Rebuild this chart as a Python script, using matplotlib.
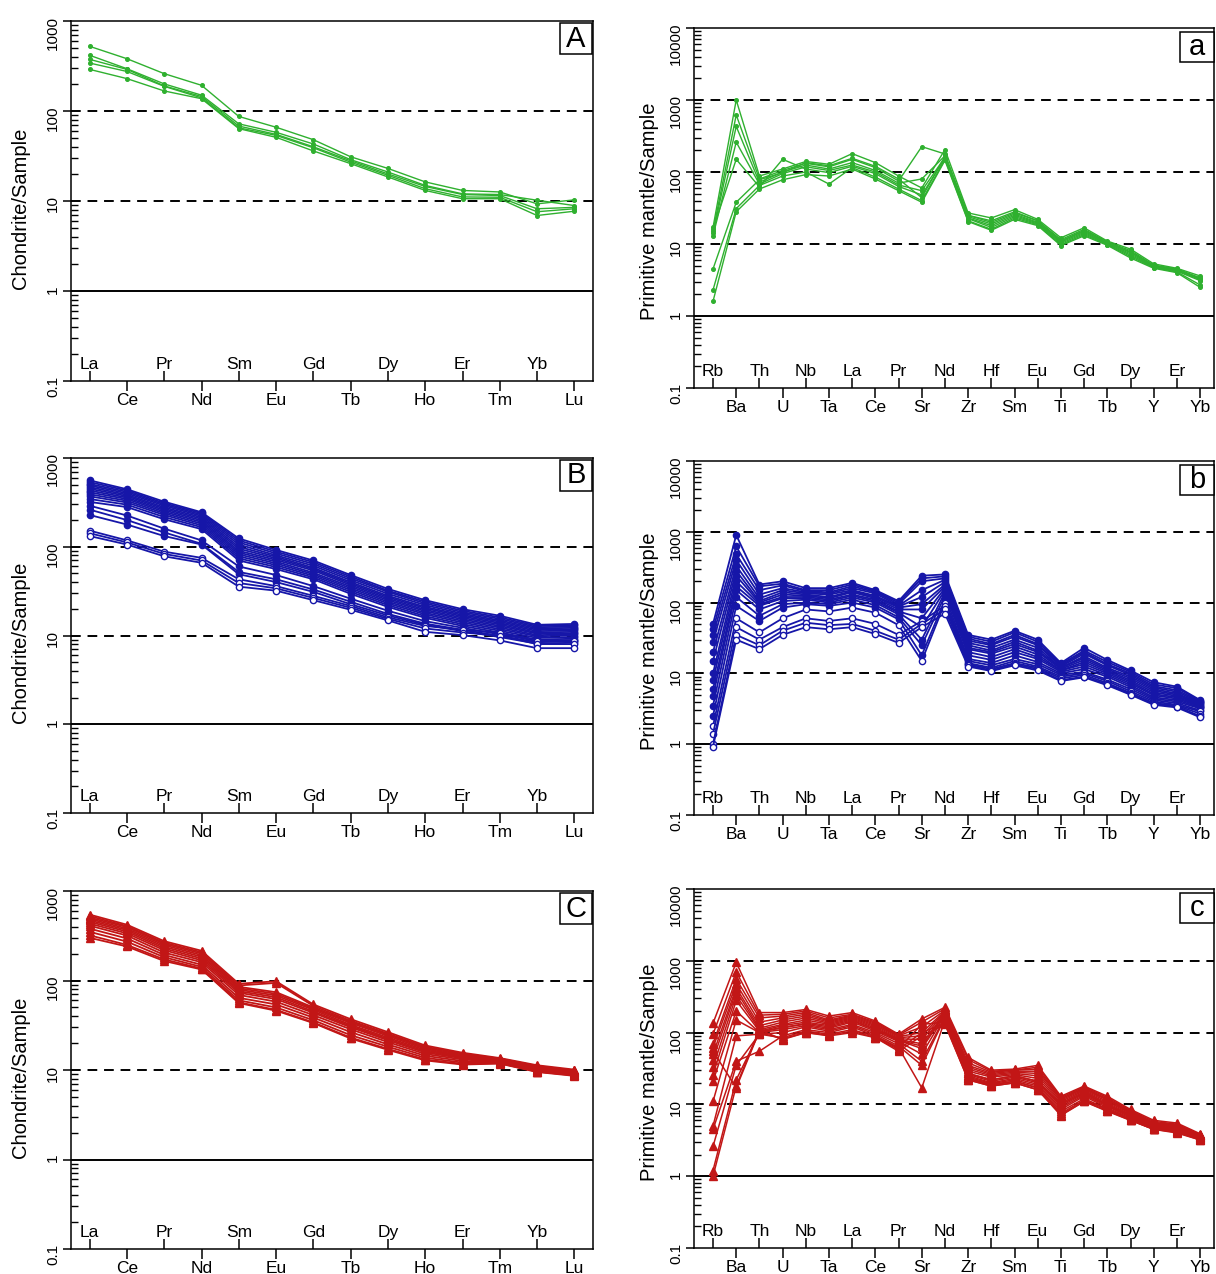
import matplotlib
matplotlib.use("Agg")
import matplotlib.pyplot as plt
from matplotlib.ticker import LogLocator, NullFormatter
from matplotlib.patches import Rectangle

plt.rcParams['font.family'] = ['Liberation Sans', 'DejaVu Sans']

# ---------------- data ----------------
ree = ['La', 'Ce', 'Pr', 'Nd', 'Sm', 'Eu', 'Gd', 'Tb', 'Dy', 'Ho', 'Er', 'Tm', 'Yb', 'Lu']
spider = ['Rb', 'Ba', 'Th', 'U', 'Nb', 'Ta', 'La', 'Ce', 'Pr', 'Sr', 'Nd',
          'Zr', 'Hf', 'Sm', 'Eu', 'Ti', 'Gd', 'Tb', 'Dy', 'Y', 'Er', 'Yb']

# Panel A (chondrite-normalised, green)
A1 = [523, 381, 260, 193, 87, 66, 48, 31, 23, 16.3, 13.1, 12.6, 9.3, 10.3]
A2 = [416, 295, 200, 150, 72, 58, 43, 28.8, 21, 14.9, 12.0, 11.8, 10.2, 8.9]
A3 = [375, 290, 190, 145, 68, 55, 40, 28, 20, 14.5, 11.8, 11.5, 8.2, 8.5]
A4 = [341, 275, 188, 140, 65, 53.6, 39, 27, 19.3, 13.7, 11.1, 11.0, 7.6, 8.2]
A5 = [290, 229, 167, 137, 63.7, 51, 36, 26, 18.5, 13.1, 10.6, 10.6, 6.9, 7.7]

# Panel B (chondrite-normalised, blue)
B01 = [560, 445, 322, 245, 124, 92, 70, 48, 33.5, 25, 19.8, 16.7, 13.2, 13.5]
B02 = [535, 430, 310, 238, 118, 88, 67, 46, 32, 24, 19, 16, 12.8, 13]
B03 = [510, 415, 300, 230, 112, 84, 64, 44, 31, 23, 18.3, 15.4, 12.4, 12.6]
B04 = [490, 400, 290, 222, 106, 80, 61, 42, 29.5, 22, 17.6, 14.8, 12, 12.2]
B05 = [470, 385, 278, 214, 100, 77, 58, 40, 28, 21, 17, 14.3, 11.6, 11.8]
B06 = [450, 372, 268, 206, 95, 74, 56, 38.5, 27, 20.3, 16.4, 13.8, 11.2, 11.4]
B07 = [430, 358, 258, 198, 90, 71, 54, 37, 26, 19.5, 15.8, 13.3, 10.8, 11]
B08 = [410, 345, 248, 190, 86, 68, 51, 35.5, 25, 18.8, 15.2, 12.8, 10.5, 10.6]
B09 = [390, 330, 238, 182, 82, 65, 49, 34, 24, 18, 14.6, 12.3, 10.1, 10.3]
B10 = [370, 315, 228, 174, 78, 62, 47, 32.5, 23, 17.3, 14, 11.8, 9.8, 10]
B11 = [345, 298, 216, 166, 74, 59, 45, 31, 22, 16.5, 13.4, 11.3, 9.4, 9.6]
B12 = [320, 280, 204, 158, 70, 56, 43, 29.5, 21, 15.8, 12.8, 10.8, 9, 9.2]
B13 = [290, 225, 160, 118, 60, 48, 36, 26, 19, 14.5, 12.2, 10.3, 8.7, 8.9]
B14 = [262, 200, 145, 108, 52, 43, 33, 24, 17.5, 13.6, 11.6, 9.9, 8.4, 8.6]
B15 = [228, 178, 132, 106, 49, 40, 31, 22.5, 16.8, 13.2, 11.2, 9.6, 8.1, 8.3]
B16 = [152, 118, 88, 75, 43, 36, 28, 21.5, 16, 12.8, 11.6, 10.8, 8.6, 8.6]
B17 = [142, 112, 83, 70, 39, 34, 26.5, 20.5, 15.4, 12, 10.8, 10, 8, 8]
B18 = [132, 106, 78, 66, 35.5, 32, 25, 19.5, 14.8, 11, 10.1, 8.8, 7.2, 7.2]

# Panel C (chondrite-normalised, red)
C01 = [545, 420, 275, 215, 92, 98, 54, 37, 26.5, 18.8, 15.6, 13.6, 11.3, 10.1]
C02 = [525, 405, 265, 207, 88, 94, 52, 35.5, 25.5, 18.2, 15.2, 13.4, 11.1, 9.9]
C03 = [505, 395, 257, 200, 85, 74, 50, 34.5, 24.8, 17.7, 14.8, 13.2, 10.9, 9.8]
C04 = [488, 380, 248, 192, 82, 71, 48.5, 33.5, 24, 17.2, 14.4, 13, 10.7, 9.7]
C05 = [470, 366, 238, 184, 79, 68, 47, 32, 23, 16.7, 14.1, 12.8, 10.5, 9.6]
C06 = [452, 352, 228, 176, 76, 65, 45, 31, 22.2, 16.2, 13.8, 12.6, 10.3, 9.4]
C07 = [432, 336, 218, 168, 73, 62, 43.5, 30, 21.5, 15.7, 13.5, 12.4, 10.1, 9.3]
C08 = [410, 318, 205, 160, 69, 58, 41, 28.5, 20.5, 15.1, 13.1, 12.3, 9.9, 9.1]
C09 = [380, 295, 193, 150, 64, 54, 38.5, 26.5, 19.3, 14.4, 12.6, 12.1, 9.7, 8.9]
C10 = [350, 272, 182, 142, 60, 50, 36, 24.5, 18.2, 13.7, 12.1, 12, 9.6, 8.8]
C11 = [320, 250, 172, 136, 57, 47, 34, 23, 17.2, 13.1, 11.7, 11.9, 9.6, 8.7]
C12 = [300, 240, 165, 133, 56, 46, 33.5, 22.5, 16.8, 12.8, 11.5, 11.8, 9.5, 8.6]

# Panel a (primitive-mantle-normalised, green)
a1 = [17, 1000, 88, 110, 140, 128, 180, 135, 88, 60, 205, 27, 23, 30, 22, 12.2, 16.8, 11, 8.5, 5.3, 4.6, 3.6]
a2 = [15, 620, 80, 105, 132, 118, 150, 115, 75, 225, 178, 25, 21, 28, 21, 11.5, 16, 10.7, 8.1, 5.1, 4.5, 3.4]
a3 = [14, 430, 72, 100, 125, 110, 135, 105, 70, 80, 168, 24, 19, 26, 20, 11, 15, 10.4, 7.6, 5, 4.4, 3.3]
a4 = [13, 260, 68, 95, 118, 105, 125, 100, 66, 55, 160, 23, 18, 25, 19.5, 10.6, 14.5, 10.2, 7.3, 4.9, 4.3, 3.2]
a5 = [16, 150, 62, 150, 110, 98, 120, 95, 63, 48, 155, 22.5, 17, 24, 19, 10.2, 14, 10, 7, 4.8, 4.2, 3.1]
a6 = [4.5, 38, 78, 98, 135, 122, 155, 120, 80, 44, 165, 25, 20, 27, 21, 11, 15.5, 10.5, 7.8, 5, 4.4, 3.3]
a7 = [2.3, 31, 65, 88, 100, 68, 115, 85, 58, 40, 150, 21, 16, 23, 18.5, 9.8, 13.5, 9.8, 6.7, 4.7, 4.1, 2.7]
a8 = [1.6, 28, 58, 78, 92, 88, 110, 80, 55, 38, 145, 20.5, 15.5, 22, 18, 9.5, 13, 9.6, 6.4, 4.6, 4, 2.5]

# Panel b (primitive-mantle-normalised, blue)
b01 = [50, 900, 180, 200, 160, 160, 190, 150, 105, 240, 250, 35, 30, 40, 30, 14, 23, 15.5, 11, 7.5, 6.5, 4.2]
b02 = [42, 620, 170, 185, 150, 150, 180, 145, 100, 220, 235, 33, 28, 38, 28, 13.5, 21, 14.5, 10.5, 7, 6.2, 4.1]
b03 = [35, 480, 150, 175, 145, 140, 170, 140, 95, 200, 220, 31, 26, 35, 26, 13, 20, 13.5, 10, 6.6, 5.8, 4]
b04 = [28, 400, 130, 160, 140, 135, 160, 135, 90, 150, 210, 29, 25, 33, 25, 12.5, 19, 13, 9.5, 6.3, 5.5, 3.9]
b05 = [20, 330, 115, 150, 135, 130, 150, 125, 88, 120, 195, 27, 23, 30, 23, 12, 17.5, 12, 9, 6, 5.2, 3.8]
b06 = [15, 280, 105, 140, 130, 120, 145, 120, 85, 95, 180, 25, 21, 28, 21, 12, 16.5, 11.5, 8.5, 5.7, 5, 3.7]
b07 = [10, 240, 100, 130, 125, 115, 140, 115, 80, 80, 170, 23, 20, 26, 20, 11.5, 15.5, 11, 8, 5.4, 4.8, 3.6]
b08 = [8, 200, 95, 120, 120, 110, 130, 110, 75, 60, 160, 22, 19, 24, 18.5, 11, 14.5, 10.5, 7.6, 5.1, 4.6, 3.5]
b09 = [6, 170, 90, 115, 115, 105, 125, 105, 72, 45, 150, 20, 17, 22, 17, 11, 13.5, 10, 7.2, 4.9, 4.4, 3.4]
b10 = [4.8, 150, 80, 105, 110, 100, 118, 100, 68, 30, 140, 18, 15.5, 20, 16, 10.5, 12.5, 9.5, 6.8, 4.6, 4.2, 3.3]
b11 = [3.5, 120, 65, 95, 100, 95, 110, 92, 62, 25, 125, 16, 14, 18, 14.5, 10, 11.5, 9, 6.4, 4.4, 4, 3.2]
b12 = [2.5, 90, 55, 85, 95, 90, 100, 85, 58, 18, 110, 15, 13, 16, 13.5, 9.5, 10.5, 8.2, 6, 4.2, 3.8, 3]
b13 = [1.8, 60, 38, 60, 80, 75, 85, 72, 48, 15, 100, 14, 12, 15, 12.5, 9, 10, 7.8, 5.6, 4, 3.6, 2.9]
b14 = [1.4, 45, 30, 45, 60, 55, 60, 50, 35, 55, 90, 13.5, 11.5, 14, 12, 8.5, 9.5, 7.3, 5.3, 3.8, 3.5, 2.7]
b15 = [1.0, 35, 25, 40, 52, 48, 50, 40, 30, 50, 80, 13, 11, 13.5, 11.5, 8, 9, 7, 5.1, 3.7, 3.4, 2.5]
b16 = [0.92, 30, 22, 35, 45, 42, 45, 36, 27, 45, 70, 12.5, 10.8, 13, 11, 7.8, 8.8, 6.8, 5, 3.6, 3.3, 2.4]

# Panel c (primitive-mantle-normalised, red)
c01 = [135, 950, 190, 190, 210, 170, 190, 145, 95, 155, 225, 45, 30, 31, 35, 13, 18, 13, 8.5, 6, 5.5, 3.9]
c02 = [95, 700, 175, 180, 200, 160, 180, 140, 92, 140, 215, 42, 29, 30, 33, 12.5, 17.5, 12.5, 8.2, 5.8, 5.3, 3.8]
c03 = [70, 560, 160, 170, 190, 150, 175, 135, 90, 120, 205, 38, 28, 30, 31, 12, 17, 12, 8, 5.6, 5.2, 3.8]
c04 = [62, 480, 140, 160, 180, 145, 170, 130, 88, 100, 200, 35, 27, 29, 29, 12, 16.5, 11.8, 7.8, 5.5, 5.1, 3.7]
c05 = [50, 420, 125, 150, 170, 140, 165, 125, 85, 90, 195, 33, 26, 28, 27, 11.5, 16, 11.5, 7.6, 5.4, 5, 3.7]
c06 = [42, 380, 115, 140, 160, 135, 160, 120, 82, 80, 190, 31, 25, 27, 25, 11, 15.5, 11, 7.4, 5.3, 4.9, 3.6]
c07 = [33, 330, 110, 130, 150, 130, 155, 115, 80, 70, 185, 29, 24, 26, 23, 10.5, 15, 10.5, 7.2, 5.2, 4.8, 3.6]
c08 = [26, 280, 105, 125, 140, 125, 150, 110, 78, 60, 180, 27, 22, 25, 21, 10, 14.5, 10, 7, 5, 4.7, 3.5]
c09 = [21, 200, 100, 120, 130, 115, 140, 105, 75, 50, 175, 26, 21, 24, 20, 9.5, 14, 9.7, 6.8, 4.9, 4.6, 3.5]
c10 = [11, 150, 100, 110, 125, 110, 130, 100, 70, 40, 165, 25, 20, 23, 19, 9, 13.5, 9.4, 6.6, 4.8, 4.5, 3.4]
c11 = [5, 90, 95, 100, 120, 105, 125, 95, 65, 35, 160, 24, 19.5, 22, 18, 8.5, 13, 9, 6.4, 4.7, 4.4, 3.4]
c12 = [4.5, 40, 55, 90, 110, 100, 120, 90, 62, 17, 150, 23, 19, 21, 17, 8, 12, 8.7, 6.2, 4.6, 4.3, 3.3]
c13 = [2.6, 35, 95, 85, 105, 95, 110, 88, 60, 130, 140, 23, 18.5, 21, 17, 7.5, 11.5, 8.5, 6.1, 4.5, 4.2, 3.3]
c14 = [1.2, 22, 100, 82, 100, 92, 105, 85, 58, 100, 135, 22, 18, 20, 16, 7, 11, 8.2, 6, 4.5, 4.1, 3.2]
c15 = [1.0, 18, 110, 80, 100, 90, 100, 85, 55, 90, 130, 22, 18, 20, 16, 7.2, 11, 8, 6, 4.5, 4, 3.2]
c16 = [55, 17, 105, 115, 135, 120, 145, 110, 78, 65, 180, 27, 22, 25, 21, 10, 14.5, 10, 7, 5, 4.7, 3.5]

panel_A = [A1, A2, A3, A4, A5]
panel_B = [B01, B02, B03, B04, B05, B06, B07, B08, B09, B10, B11, B12, B13, B14, B15]
panel_B_open = [B16, B17, B18]
panel_C = [C01, C02, C03, C04, C05, C06, C07, C08, C09, C10, C11, C12]
panel_a = [a1, a2, a3, a4, a5, a6, a7, a8]
panel_b = [b01, b02, b03, b04, b05, b06, b07, b08, b09, b10, b11, b12]
panel_b_open = [b13, b14, b15, b16]
panel_c = [c01, c02, c03, c04, c05, c06, c07, c08, c09, c10, c11, c12, c13, c14, c15, c16]

GREEN = '#2fb02f'
BLUE = '#1616a8'
RED = '#c21616'

# ---------------- figure ----------------
W, H = 1216, 1274
fig = plt.figure(figsize=(W / 100, H / 100), dpi=100)


def px_axes(x0, x1, y0, y1):
    return fig.add_axes([x0 / W, 1 - y1 / H, (x1 - x0) / W, (y1 - y0) / H])


def style_axis(ax, names, xlim, ymax, ylabel, letter, box):
    ax.set_yscale('log')
    ax.set_ylim(0.1, ymax)
    ax.set_xlim(*xlim)
    for s in ax.spines.values():
        s.set_linewidth(1.1)
    # reference lines
    ax.axhline(1, color='black', lw=1.4, zorder=1)
    dec = [10, 100] if ymax <= 1000 else [10, 100, 1000]
    for d in dec:
        ax.axhline(d, color='black', lw=1.4, ls=(0, (5, 3.5)), zorder=1)
    # y ticks
    yt = [0.1, 1, 10, 100, 1000] + ([10000] if ymax > 1000 else [])
    ax.set_yticks(yt, [('%g' % v) for v in yt])
    ax.yaxis.set_minor_locator(LogLocator(base=10, subs=range(2, 10), numticks=50))
    ax.yaxis.set_minor_formatter(NullFormatter())
    ax.tick_params(axis='y', which='major', direction='out', length=6, width=1.1,
                   labelsize=11, labelrotation=90, pad=2)
    ax.tick_params(axis='y', which='minor', direction='in', length=5, width=1.0)
    # x ticks: even -> inside with labels above axis, odd -> outside below
    even = list(range(0, len(names), 2))
    odd = list(range(1, len(names), 2))
    ax.tick_params(axis='x', which='major', direction='in', length=7, width=1.1,
                   pad=-6.5, labelsize=12.5)
    ax.tick_params(axis='x', which='minor', direction='out', length=7, width=1.1,
                   pad=1.5, labelsize=12.5)
    ax.set_xticks(even, [names[i] for i in even], va='bottom')
    ax.set_xticks(odd, [names[i] for i in odd], minor=True)
    ax.set_ylabel(ylabel, fontsize=14.5)
    # panel letter box
    bx0, bx1, by0, by1 = box
    ax.add_patch(Rectangle((bx0, by0), bx1 - bx0, by1 - by0, transform=ax.transAxes,
                           fc='white', ec='black', lw=1.1, zorder=5, clip_on=False))
    ax.text((bx0 + bx1) / 2, (by0 + by1) / 2, letter, transform=ax.transAxes,
            ha='center', va='center', fontsize=21, zorder=6)


def draw(ax, rows, color, marker, ms, lw, open_face=False):
    x = list(range(len(rows[0])))
    for r in rows:
        ax.plot(x, r, color=color, lw=lw, marker=marker, ms=ms,
                mfc='white' if open_face else color, mec=color, mew=1.0, zorder=3)


left_x = (71, 593)
right_x = (694, 1214)
rows_left = [(21, 381), (458, 813), (891, 1249)]
rows_right = [(28, 388), (461, 815), (889, 1248)]
box_left = (0.937, 0.998, 0.908, 0.994)
box_right = (0.935, 1.0, 0.905, 0.99)

axA = px_axes(left_x[0], left_x[1], *rows_left[0])
axB = px_axes(left_x[0], left_x[1], *rows_left[1])
axC = px_axes(left_x[0], left_x[1], *rows_left[2])
axa = px_axes(right_x[0], right_x[1], *rows_right[0])
axb = px_axes(right_x[0], right_x[1], *rows_right[1])
axc = px_axes(right_x[0], right_x[1], *rows_right[2])

for ax, letter in [(axA, 'A'), (axB, 'B'), (axC, 'C')]:
    style_axis(ax, ree, (-0.5, 13.5), 1000, 'Chondrite/Sample', letter, box_left)
    ax.yaxis.set_label_coords(-0.079, 0.48)
for ax, letter in [(axa, 'a'), (axb, 'b'), (axc, 'c')]:
    style_axis(ax, spider, (-0.82, 21.6), 10000, 'Primitive mantle/Sample', letter, box_right)
    ax.yaxis.set_label_coords(-0.068, 0.49)

draw(axA, panel_A, GREEN, 'o', 2.6, 1.0)
draw(axB, panel_B, BLUE, 'o', 4.5, 1.3)
draw(axB, panel_B_open, BLUE, 'o', 4.5, 1.3, open_face=True)
draw(axC, panel_C, RED, '^', 5.5, 1.3)
draw(axa, panel_a, GREEN, 'o', 2.6, 1.0)
draw(axb, panel_b, BLUE, 'o', 4.5, 1.3)
draw(axb, panel_b_open, BLUE, 'o', 4.5, 1.3, open_face=True)
draw(axc, panel_c, RED, '^', 5.5, 1.1)

fig.savefig('out.png', dpi=100)
